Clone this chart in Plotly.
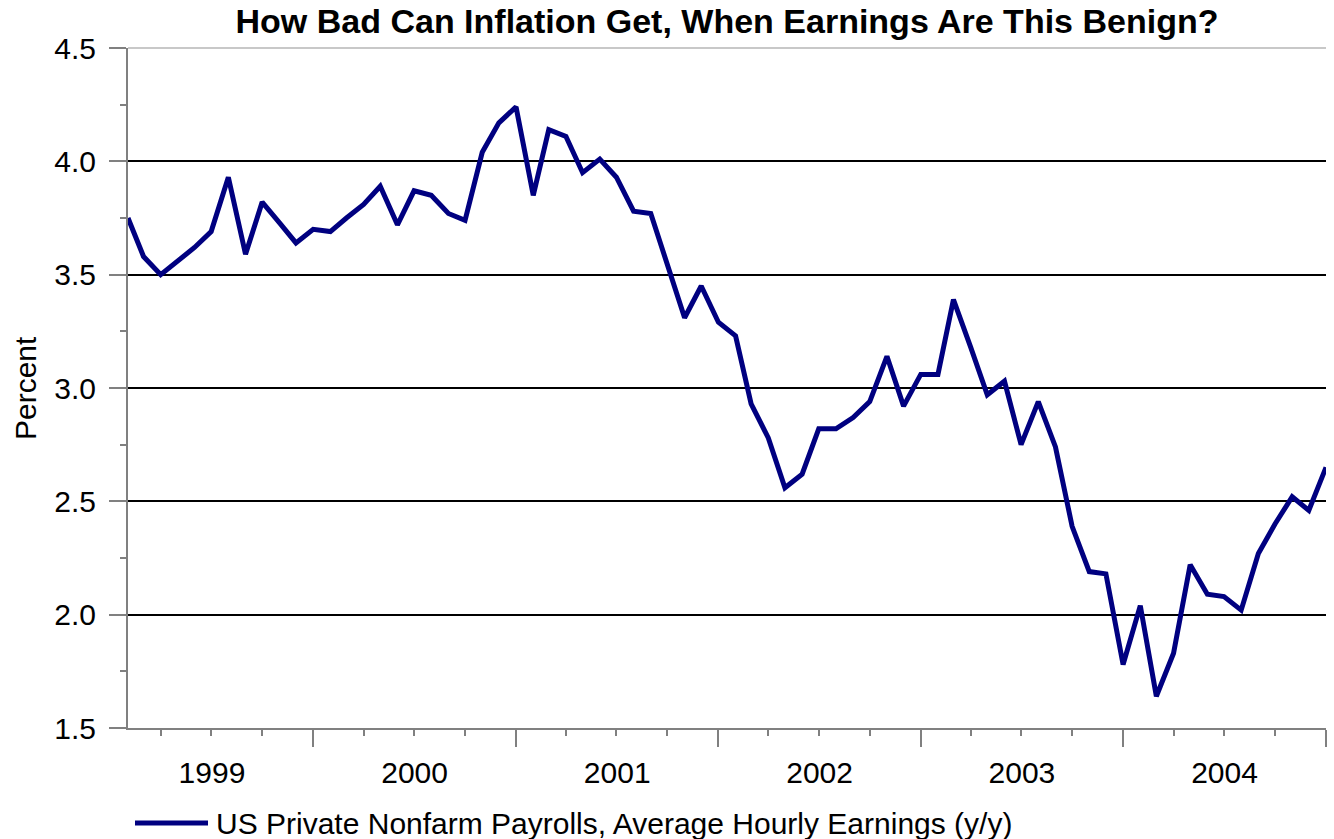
import plotly.graph_objects as go
import pandas as pd

# Monthly y/y growth of average hourly earnings, US private nonfarm payrolls
months = pd.date_range("1999-02-01", "2005-01-01", freq="MS").strftime("%Y-%m-%d").tolist()
earnings_yy = [
    3.75, 3.58, 3.50, 3.56, 3.62, 3.69, 3.93, 3.59, 3.82, 3.73, 3.64, 3.70,
    3.69, 3.75, 3.81, 3.89, 3.72, 3.87, 3.85, 3.77, 3.74, 4.04, 4.17, 4.24,
    3.85, 4.14, 4.11, 3.95, 4.01, 3.93, 3.78, 3.77, 3.54, 3.31, 3.45, 3.29,
    3.23, 2.93, 2.78, 2.56, 2.62, 2.82, 2.82, 2.87, 2.94, 3.14, 2.92, 3.06,
    3.06, 3.39, 3.18, 2.97, 3.03, 2.75, 2.94, 2.74, 2.39, 2.19, 2.18, 1.78,
    2.04, 1.64, 1.83, 2.22, 2.09, 2.08, 2.02, 2.27, 2.40, 2.52, 2.46, 2.65,
]
series_name = "US Private Nonfarm Payrolls, Average Hourly Earnings (y/y)"
title_text = "How Bad Can Inflation Get, When Earnings Are This Benign?"
y_title = "Percent"

FONT = "Arial, 'Liberation Sans', sans-serif"
NAVY = "#000080"
AXIS_GRAY = "#808080"
TXT = 30

fig = go.Figure()
fig.add_trace(go.Scatter(
    x=months, y=earnings_yy, mode="lines", name=series_name,
    line=dict(color=NAVY, width=5), showlegend=False,
))

fig.update_layout(
    width=1334, height=839,
    margin=dict(l=128, r=8, t=48, b=111, pad=0),
    paper_bgcolor="white", plot_bgcolor="white",
    font=dict(family=FONT, size=TXT, color="black"),
    title=dict(
        text="<b>" + title_text + "</b>",
        x=0.5, xref="paper", xanchor="center",
        y=1 - 21 / 839, yref="container", yanchor="middle",
        font=dict(family=FONT, size=34, color="black"),
    ),
)

fig.update_xaxes(
    type="date",
    range=[months[0], months[-1]],
    tick0="1999-01-01", dtick="M12",
    ticklabelmode="period", tickformat="%Y",
    ticks="outside", ticklen=17, tickwidth=2, tickcolor=AXIS_GRAY,
    minor=dict(dtick="M3", ticks="outside", ticklen=6, tickwidth=2,
               tickcolor=AXIS_GRAY, showgrid=False),
    showline=True, linecolor=AXIS_GRAY, linewidth=2,
    showgrid=False, zeroline=False,
    tickfont=dict(size=TXT),
)

fig.update_yaxes(
    range=[1.5, 4.5], tick0=1.5, dtick=0.5, tickformat=".1f",
    ticks="outside", ticklen=17, tickwidth=2, tickcolor=AXIS_GRAY,
    minor=dict(dtick=0.25, ticks="outside", ticklen=6, tickwidth=2,
               tickcolor=AXIS_GRAY, showgrid=False),
    showline=True, linecolor=AXIS_GRAY, linewidth=2,
    showgrid=True, gridcolor="black", gridwidth=2, zeroline=False,
    ticklabelstandoff=7,
    tickfont=dict(size=TXT),
)

# Plot-area top edge in light gray
fig.add_shape(type="line", xref="paper", yref="paper", x0=0, x1=1, y0=1, y1=1,
              line=dict(color="#c8c8c8", width=2), layer="above")

# Y-axis title
fig.add_annotation(text=y_title, xref="paper", yref="paper",
                   x=(25 - 128) / 1198, y=0.5, textangle=-90,
                   showarrow=False, xanchor="center", yanchor="middle",
                   font=dict(size=TXT))

# Legend below the axis: line sample + label
leg_y = (728 - 823) / 680
fig.add_shape(type="line", xref="paper", yref="paper",
              x0=(135 - 128) / 1198, x1=(208 - 128) / 1198, y0=leg_y, y1=leg_y,
              line=dict(color=NAVY, width=5))
fig.add_annotation(text=series_name, xref="paper", yref="paper",
                   x=(214 - 128) / 1198, y=leg_y, xanchor="left", yanchor="middle",
                   showarrow=False, font=dict(size=TXT))

fig.write_html("out.html")
